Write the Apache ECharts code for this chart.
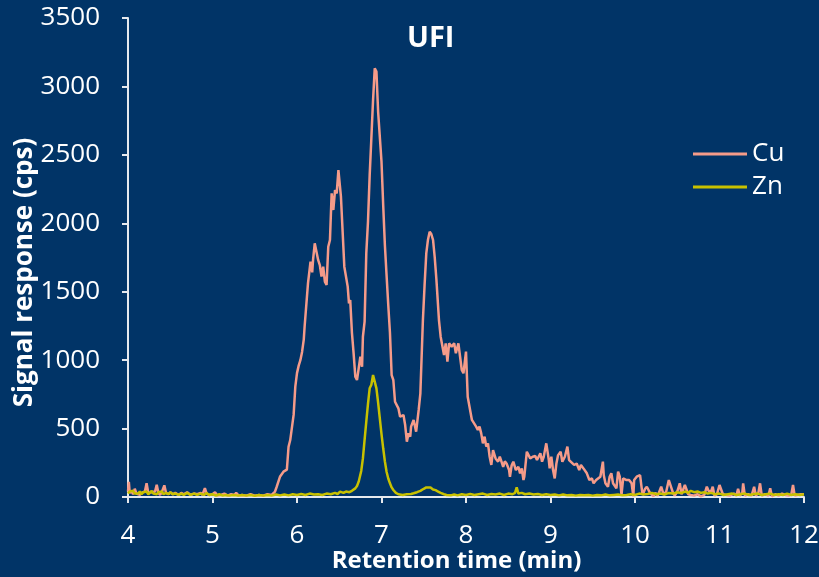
<!DOCTYPE html>
<html>
<head>
<meta charset="utf-8">
<script src="https://cdn.jsdelivr.net/npm/echarts@6/dist/echarts.min.js"></script>
<style>
  html, body { margin: 0; padding: 0; background: #013467; }
  #chart { width: 819px; height: 577px; }
</style>
</head>
<body>
<div id="chart"></div>
<script>
// Retention time (min) and signal (cps) for each element trace
const cuTime = [4.00,4.01,4.02,4.04,4.06,4.08,4.10,4.12,4.14,4.16,4.18,4.20,4.22,4.24,4.26,4.28,4.30,4.32,4.34,4.36,4.38,4.40,4.42,4.43,4.45,4.48,4.50,4.53,4.56,4.60,4.63,4.66,4.70,4.74,4.78,4.82,4.86,4.88,4.91,4.93,4.96,5.00,5.03,5.06,5.10,5.14,5.18,5.22,5.26,5.28,5.31,5.35,5.40,5.45,5.50,5.55,5.60,5.65,5.70,5.74,5.76,5.78,5.80,5.82,5.84,5.86,5.88,5.90,5.92,5.94,5.96,5.98,6.00,6.02,6.04,6.06,6.08,6.09,6.11,6.13,6.15,6.16,6.18,6.19,6.21,6.23,6.25,6.27,6.29,6.31,6.33,6.35,6.37,6.39,6.41,6.43,6.45,6.47,6.49,6.50,6.52,6.54,6.56,6.58,6.60,6.615,6.63,6.65,6.67,6.69,6.71,6.73,6.75,6.77,6.78,6.80,6.82,6.84,6.86,6.88,6.90,6.92,6.94,6.96,6.98,7.00,7.02,7.04,7.06,7.08,7.10,7.12,7.14,7.16,7.18,7.20,7.22,7.24,7.26,7.28,7.30,7.32,7.34,7.35,7.38,7.41,7.44,7.46,7.49,7.51,7.53,7.55,7.57,7.59,7.61,7.63,7.65,7.68,7.70,7.72,7.74,7.76,7.78,7.80,7.83,7.86,7.88,7.91,7.93,7.95,7.97,8.00,8.02,8.04,8.07,8.09,8.12,8.14,8.16,8.18,8.20,8.22,8.24,8.26,8.28,8.30,8.32,8.35,8.38,8.40,8.42,8.44,8.46,8.48,8.51,8.52,8.54,8.56,8.59,8.62,8.64,8.66,8.68,8.69,8.72,8.76,8.79,8.82,8.84,8.88,8.90,8.92,8.95,8.98,8.99,9.01,9.03,9.05,9.07,9.09,9.12,9.14,9.17,9.20,9.22,9.24,9.28,9.31,9.34,9.36,9.39,9.43,9.46,9.49,9.51,9.54,9.56,9.59,9.62,9.63,9.65,9.68,9.70,9.72,9.74,9.78,9.80,9.82,9.84,9.86,9.90,9.93,9.96,9.98,9.99,10.02,10.06,10.08,10.09,10.12,10.14,10.16,10.18,10.22,10.24,10.27,10.31,10.34,10.37,10.40,10.42,10.45,10.47,10.50,10.53,10.55,10.57,10.59,10.61,10.63,10.66,10.70,10.74,10.78,10.82,10.85,10.87,10.90,10.92,10.94,10.97,11.00,11.02,11.04,11.08,11.12,11.17,11.20,11.22,11.24,11.27,11.28,11.30,11.34,11.38,11.41,11.43,11.46,11.48,11.50,11.54,11.58,11.60,11.62,11.66,11.70,11.74,11.78,11.82,11.85,11.87,11.89,11.92,11.96,12.00];
const cuSignal = [40,110,30,45,20,60,25,35,15,30,20,40,100,30,20,35,25,40,90,30,15,35,25,85,30,20,35,20,30,15,30,20,35,15,25,20,30,15,65,25,15,20,35,10,15,25,10,20,15,30,10,15,10,20,10,15,10,20,15,40,75,80,150,160,185,197,200,367,416,410,600,806,905,960,1000,1060,1150,1244,1244,1561,1573,1719,1641,1732,1854,1866,1732,1695,1610,1683,1573,1549,1829,1878,2219,2097,2243,2219,2389,2389,2194,2194,1683,1671,1537,1415,1439,1200,1050,879,855,940,1025,952,1171,1281,1780,2011,2350,2621,2900,3132,3108,2815,2803,2450,2134,1841,1620,1403,1200,891,855,696,684,648,587,599,599,526,404,465,441,514,563,477,636,758,1293,1550,1780,1880,1939,1920,1878,1750,1586,1293,1171,1159,1037,1123,989,1123,1098,1123,1050,1123,1025,928,904,1062,733,721,563,563,514,490,514,465,392,441,368,392,294,234,343,282,258,294,258,221,260,245,197,148,230,258,197,221,173,209,124,148,331,282,294,300,270,319,258,294,392,270,209,294,197,136,245,306,331,258,294,368,270,282,234,245,197,234,209,173,124,136,100,124,112,148,258,160,100,75,148,173,100,63,185,148,15,136,124,124,100,5,124,148,160,60,15,60,75,88,27,5,30,10,75,15,40,124,120,30,10,40,100,20,30,88,80,20,15,10,20,5,15,75,45,40,75,10,20,88,80,20,15,10,25,10,60,10,30,100,10,20,10,75,10,30,100,10,20,10,63,5,20,10,25,15,10,20,88,10,15,20,20];

const znTime = [4.00,4.02,4.04,4.06,4.08,4.10,4.12,4.14,4.16,4.18,4.20,4.22,4.24,4.26,4.28,4.30,4.32,4.34,4.36,4.38,4.40,4.42,4.45,4.48,4.50,4.53,4.56,4.60,4.63,4.66,4.70,4.74,4.78,4.82,4.86,4.90,4.93,4.96,5.00,5.04,5.08,5.12,5.16,5.20,5.25,5.30,5.35,5.40,5.45,5.50,5.55,5.60,5.65,5.70,5.75,5.80,5.85,5.90,5.95,6.00,6.05,6.10,6.15,6.20,6.25,6.30,6.35,6.40,6.45,6.48,6.51,6.55,6.58,6.62,6.65,6.69,6.71,6.73,6.76,6.78,6.80,6.82,6.84,6.86,6.88,6.90,6.92,6.94,6.96,6.98,7.00,7.02,7.04,7.06,7.08,7.10,7.12,7.14,7.17,7.20,7.25,7.30,7.35,7.38,7.42,7.46,7.50,7.53,7.55,7.58,7.61,7.64,7.67,7.70,7.74,7.77,7.82,7.86,7.90,7.95,8.00,8.05,8.10,8.15,8.20,8.25,8.30,8.35,8.40,8.45,8.50,8.55,8.58,8.60,8.62,8.66,8.70,8.75,8.80,8.85,8.90,8.95,9.00,9.05,9.10,9.15,9.20,9.25,9.30,9.35,9.40,9.45,9.50,9.55,9.60,9.65,9.70,9.75,9.80,9.85,9.90,9.95,10.00,10.05,10.10,10.15,10.20,10.25,10.30,10.35,10.40,10.45,10.50,10.55,10.60,10.63,10.66,10.70,10.74,10.78,10.82,10.86,10.90,10.95,11.00,11.05,11.10,11.15,11.20,11.25,11.30,11.35,11.40,11.45,11.50,11.55,11.60,11.65,11.70,11.75,11.80,11.85,11.90,11.95,12.00];
const znSignal = [25,40,30,45,25,35,25,40,20,35,25,40,20,30,45,25,30,20,35,25,40,20,30,20,35,20,25,15,25,15,30,15,25,15,25,15,30,15,20,10,20,10,15,10,15,10,15,10,15,8,15,10,15,10,18,12,18,12,20,15,22,15,25,18,20,15,25,20,30,22,39,30,40,35,45,63,80,112,190,282,420,550,680,794,820,891,905,794,690,575,460,356,260,185,135,100,70,51,30,20,15,20,22,27,35,45,60,70,75,70,55,50,40,30,20,15,12,18,12,20,15,22,15,20,25,15,22,18,25,15,25,20,30,71,25,30,20,25,18,22,15,20,15,18,12,18,12,15,10,15,12,15,10,15,12,18,12,15,18,12,15,20,15,25,18,22,30,20,25,18,30,25,35,30,40,30,45,35,40,30,35,25,30,20,25,15,20,25,15,20,25,15,20,25,15,20,25,15,20,15,25,15,20,15,20];

const seriesNames = ['Cu', 'Zn'];
const xTicks = { min: 4, max: 12, step: 1 };
const yTicks = { min: 0, max: 3500, step: 500 };

const pair = (ts, vs) => ts.map((t, i) => [t, vs[i]]);

const chart = echarts.init(document.getElementById('chart'), null, { renderer: 'canvas' });
const font = "'Open Sans', 'Noto Sans', sans-serif";
const axisColor = '#E6E9EE';
const cuColor = '#F59B89';
const znColor = '#C8C100';

chart.setOption({
  backgroundColor: '#013467',
  animation: false,
  textStyle: { fontFamily: font },
  title: {
    text: 'UFI',
    left: 402,
    top: 19,
    textStyle: { color: '#FFFFFF', fontSize: 29, fontWeight: 'bold', fontFamily: font }
  },
  legend: {
    orient: 'vertical',
    left: 688,
    top: 136,
    icon: 'rect',
    itemWidth: 54,
    itemHeight: 3,
    itemGap: 7,
    textStyle: { color: '#FFFFFF', fontSize: 26, fontFamily: font },
    data: [
      { name: seriesNames[0], itemStyle: { color: cuColor } },
      { name: seriesNames[1], itemStyle: { color: znColor } }
    ]
  },
  grid: { left: 128, right: 15, top: 18, bottom: 80, containLabel: false, outerBoundsMode: 'none' },
  xAxis: {
    type: 'value',
    min: xTicks.min, max: xTicks.max, interval: xTicks.step,
    name: 'Retention time (min)',
    nameLocation: 'middle',
    nameGap: 52,
    nameMoveOverlap: false,
    nameTextStyle: { color: '#FFFFFF', fontSize: 24, fontWeight: 'bold', fontFamily: font, padding: [0, 19, 0, 0] },
    axisLine: { show: true, onZero: false, lineStyle: { color: axisColor, width: 2 } },
    axisTick: { show: true, length: 6, lineStyle: { color: axisColor, width: 2 } },
    axisLabel: { color: '#FFFFFF', fontSize: 26, fontFamily: font, margin: 26 },
    splitLine: { show: false }
  },
  yAxis: {
    type: 'value',
    min: yTicks.min, max: yTicks.max, interval: yTicks.step,
    name: 'Signal response (cps)',
    nameLocation: 'middle',
    nameGap: 90,
    nameMoveOverlap: false,
    nameRotate: 90,
    nameTextStyle: { color: '#FFFFFF', fontSize: 26, fontWeight: 'bold', fontFamily: font, padding: [0, 30, 0, 0] },
    axisLine: { show: true, lineStyle: { color: axisColor, width: 2 } },
    axisTick: { show: true, length: 6, lineStyle: { color: axisColor, width: 2 } },
    axisLabel: { color: '#FFFFFF', fontSize: 26, fontFamily: font, margin: 28, formatter: v => String(v) },
    splitLine: { show: false }
  },
  series: [
    {
      name: seriesNames[0],
      type: 'line',
      symbol: 'none',
      data: pair(cuTime, cuSignal),
      lineStyle: { color: cuColor, width: 2.5 },
      itemStyle: { color: cuColor }
    },
    {
      name: seriesNames[1],
      type: 'line',
      symbol: 'none',
      data: pair(znTime, znSignal),
      lineStyle: { color: znColor, width: 2.5 },
      itemStyle: { color: znColor }
    }
  ]
});
</script>
</body>
</html>
